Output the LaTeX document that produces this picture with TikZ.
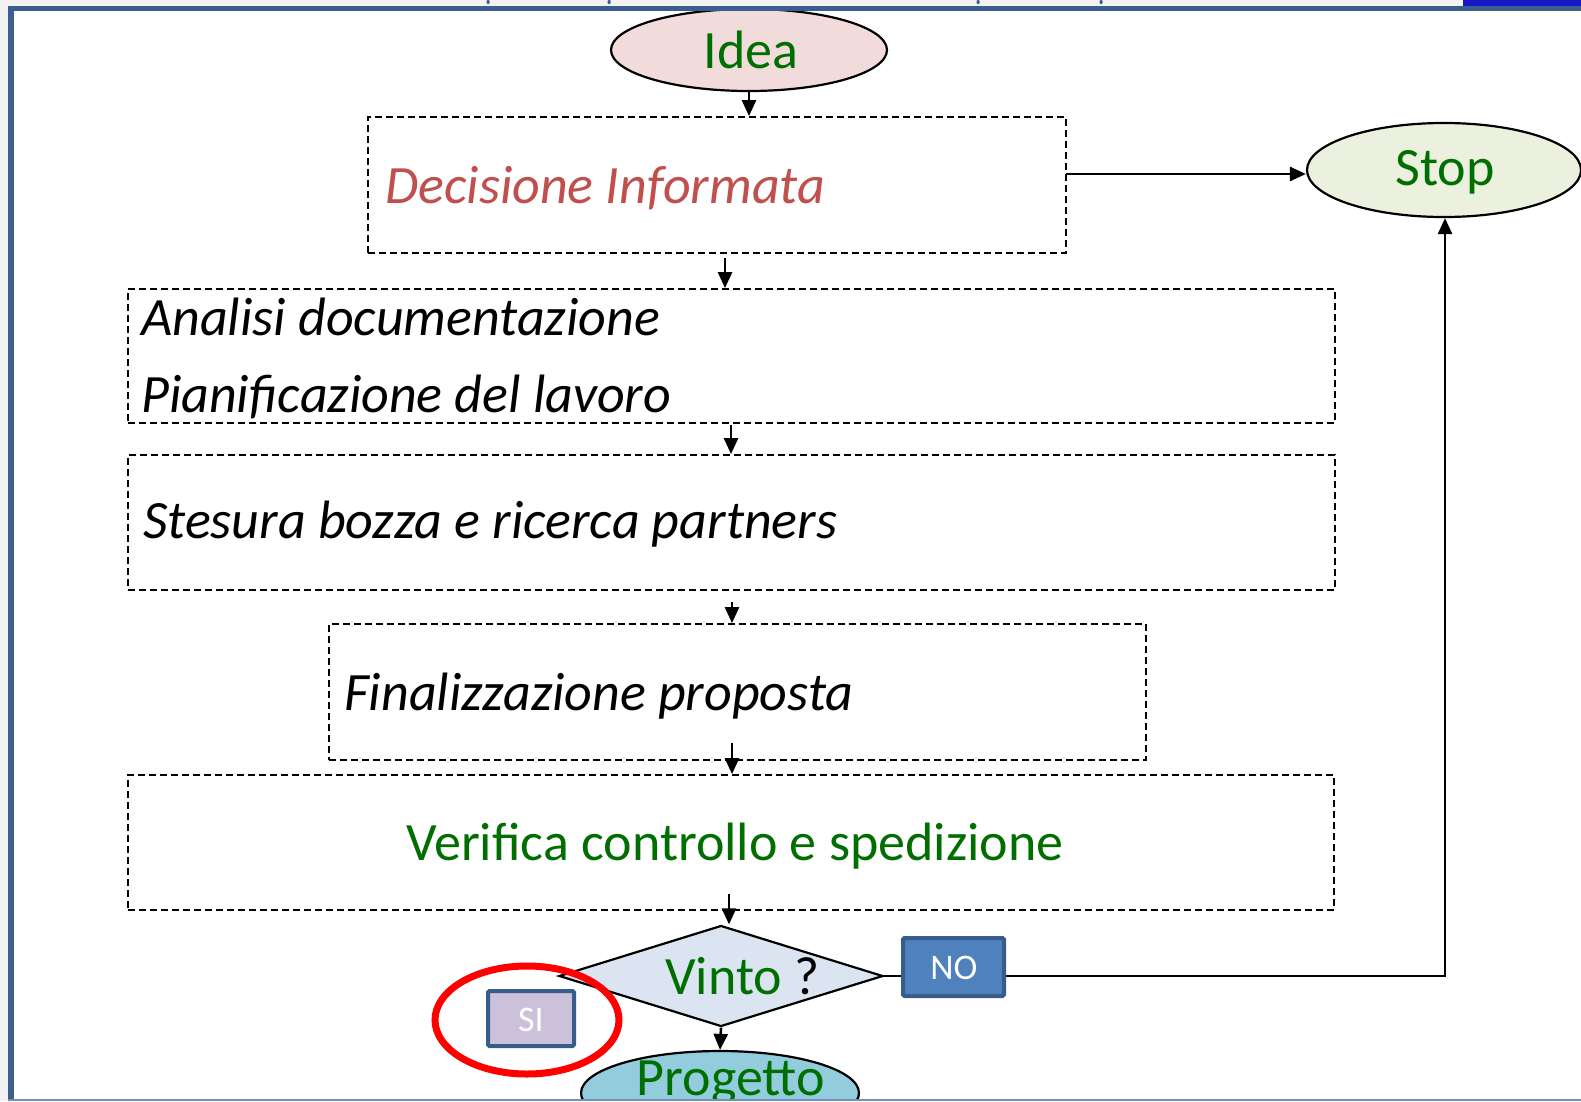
\documentclass[tikz,border=0pt]{standalone}
\usepackage{fontspec}
\setmainfont{Carlito}
\usetikzlibrary{shapes.geometric,arrows.meta}
\definecolor{framecol}{HTML}{3A5F8E}
\definecolor{framelite}{HTML}{7090C0}
\definecolor{pagegray}{HTML}{F2F2F2}
\definecolor{topblue}{HTML}{1518C4}
\definecolor{txtgreen}{RGB}{0,110,0}
\definecolor{decred}{HTML}{C0504D}
\definecolor{ideafill}{HTML}{F2DCDB}
\definecolor{stopfill}{HTML}{EBF1DE}
\definecolor{diafill}{HTML}{DBE5F1}
\definecolor{progfill}{HTML}{93CDDD}
\definecolor{nofill}{HTML}{4F81BD}
\definecolor{nobord}{HTML}{385D8A}
\definecolor{sifill}{HTML}{CCC1DA}
\begin{document}
\begin{tikzpicture}[x=1pt,y=-1pt,
  boxd/.style={draw=black, line width=1.8pt, dash pattern=on 7pt off 4pt, inner sep=0pt},
  oval/.style={ellipse, draw=black, line width=2.2pt, inner sep=0pt},
  arr/.style={-{Triangle[length=16pt,width=14pt]}, line width=2.6pt},
  conn/.style={line width=2.6pt},
  tagbox/.style={draw=nobord, line width=4pt, rounded corners=1.5pt, inner sep=0pt},
  big/.style={font=\fontsize{54}{64}\selectfont, inner sep=0pt},
  bigit/.style={font=\fontsize{54}{64}\selectfont\itshape, inner sep=0pt},
  small/.style={font=\fontsize{36}{42}\selectfont, inner sep=0pt, text=white}]
\useasboundingbox (0,0) rectangle (1581,1101);
% page background and frame
\fill[pagegray] (0,0) rectangle (1581,1101);
\fill[white] (14,11) rectangle (1581,1099);
\fill[topblue] (1463,0) rectangle (1581,6);
\foreach \mx in {488,609,978,1101} {\fill[framecol, rounded corners=1pt] (\mx-1.5,0) rectangle (\mx+1.5,4);}
\begin{scope}
\clip (14,11) rectangle (1581,1099);
% nodes
\node[oval, fill=ideafill, minimum width=276pt, minimum height=82pt] (idea) at (749,50) {};
\node[big, text=txtgreen, anchor=base] (ideat) at (751,68) {Idea};
\node[boxd, minimum width=698pt, minimum height=136pt] (dec) at (717,185) {};
\node[bigit, text=decred, anchor=base west] (dect) at (385,203) {Decisione Informata};
\node[oval, fill=stopfill, minimum width=274pt, minimum height=94pt] (stop) at (1444,170) {};
\node[big, text=txtgreen, anchor=base] (stopt) at (1445,185) {Stop};
\node[boxd, minimum width=1207pt, minimum height=134pt] (ana) at (731.5,356) {};
\node[bigit, anchor=base west] (anat1) at (141,335) {Analisi documentazione};
\node[bigit, anchor=base west] (anat2) at (141,412) {Pianificazione del lavoro};
\node[boxd, minimum width=1207pt, minimum height=135pt] (ste) at (731.5,522.5) {};
\node[bigit, anchor=base west] (stet) at (143,538) {Stesura bozza e ricerca partners};
\node[boxd, minimum width=817pt, minimum height=136pt] (fin) at (737.5,692) {};
\node[bigit, anchor=base west] (fint) at (344,710) {Finalizzazione proposta};
\node[boxd, minimum width=1206pt, minimum height=135pt] (ver) at (731,842.5) {};
\node[big, text=txtgreen, anchor=base] (vert) at (735,860) {Verifica controllo e spedizione};
\node[diamond, draw=black, line width=2.2pt, fill=diafill, inner sep=0pt, minimum width=324pt, minimum height=101pt] (vinto) at (721,976) {};
\node[big, anchor=base west] (vintot) at (665,994) {\textcolor{txtgreen}{Vinto} ?};
\node[tagbox, fill=nofill, minimum width=101pt, minimum height=58pt] (no) at (953.5,967) {};
\node[small, anchor=base] (not) at (954,979) {NO};
\node[tagbox, fill=sifill, minimum width=86pt, minimum height=55pt] (si) at (531,1018.5) {};
\node[small, anchor=base] (sit) at (531,1031) {SI};
\node[ellipse, draw=red, line width=7pt, inner sep=0pt, minimum width=184pt, minimum height=108pt] (ring) at (527,1020) {};
\node[oval, fill=progfill, minimum width=278pt, minimum height=84pt] (prog) at (720,1093) {};
\node[big, text=txtgreen, anchor=base] (progt) at (731,1095) {Progetto};
% connectors
\coordinate (c0) at (1066,174);
\coordinate (c1) at (725,258);
\coordinate (c2) at (731,425);
\coordinate (c3) at (732,602);
\coordinate (c4) at (732,743);
\coordinate (c5) at (729,894);
\coordinate (c6) at (1445,976);
\draw[arr] (idea.south) -- (idea.south |- dec.north);
\draw[arr] (c0) -- (c0 -| stop.west);
\draw[arr] (c1) -- (c1 |- ana.north);
\draw[arr] (c2) -- (c2 |- ste.north);
\draw[arr] (c3) -- (c3 |- fin.north);
\draw[arr] (c4) -- (c4 |- ver.north);
\draw[arr] (c5) -- (c5 |- vinto.north);
\draw[conn] (vinto.east) -- (no.west |- vinto.east);
\draw[arr] (no.east |- c6) -- (c6) -- (c6 |- stop.south);
\draw[arr] (vinto.south) -- (prog.north);
\end{scope}
% frame border
\fill[framecol] (8,6) rectangle (1581,11);
\fill[framecol] (8,6) rectangle (14,1099);
\fill[framelite] (8,1099) rectangle (1581,1101);
\end{tikzpicture}
\end{document}
